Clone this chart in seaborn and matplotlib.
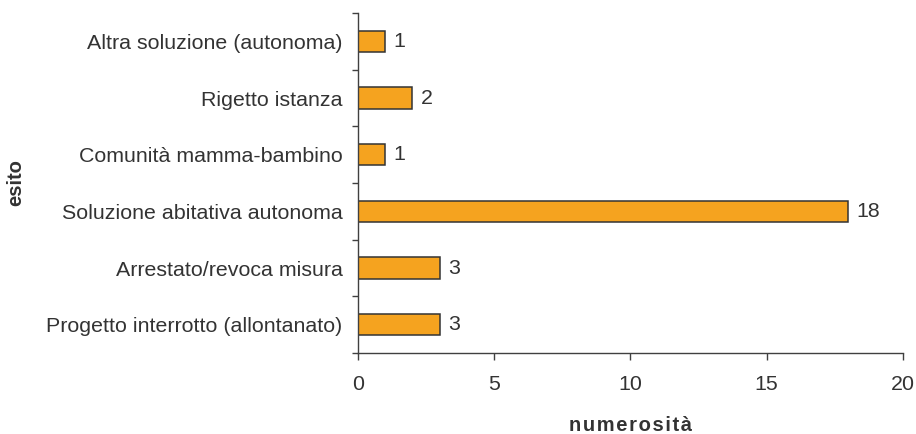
from matplotlib import pyplot as plt
from matplotlib.ticker import FixedLocator
import seaborn as sns
import pandas as pd

# categories from top to bottom, as in the chart
categorie = ['Altra soluzione (autonoma)', 'Rigetto istanza', 'Comunità mamma-bambino',
             'Soluzione abitativa autonoma', 'Arrestato/revoca misura',
             'Progetto interrotto (allontanato)']
valori = [1, 2, 1, 18, 3, 3]
x_ticks = [0, 5, 10, 15, 20]

df = pd.DataFrame({'esito': categorie, 'numerosita': valori})

sns.set_theme(style='white')
plt.rcParams['font.family'] = ['Liberation Sans', 'DejaVu Sans']
axis_col = '#404040'
text_col = '#333333'
fs = 15.4

fig = plt.figure(figsize=(9.16, 4.34), dpi=100)
ax = fig.add_axes([0.3908, 0.1866, 0.595, 0.7834])

sns.barplot(data=df, x='numerosita', y='esito', orient='h', color='#F5A31F',
            saturation=1, width=0.38, edgecolor='#333333', linewidth=1.1, ax=ax)

# value labels to the right of each bar
for i, v in enumerate(valori):
    ax.annotate(str(v), (v, i), xytext=(6, 0), textcoords='offset points',
                va='center', ha='left', fontsize=fs, color=text_col)

ax.set_xlim(0, 20)
ax.set_ylim(len(categorie) - 0.5, -0.5)
ax.set_xticks(x_ticks)
ax.set_xticklabels([str(t) for t in x_ticks], fontsize=fs, color=text_col)
ax.set_yticks(range(len(categorie)))
ax.set_yticklabels(categorie, fontsize=fs, color=text_col)
ax.yaxis.set_minor_locator(FixedLocator([i - 0.5 for i in range(len(categorie) + 1)]))
ax.tick_params(axis='y', which='major', length=0, pad=11)
ax.tick_params(axis='y', which='minor', length=4.5, width=1, color=axis_col, left=True)
ax.tick_params(axis='x', which='major', length=5, width=1, color=axis_col, bottom=True, pad=11)

for s in ['top', 'right']:
    ax.spines[s].set_visible(False)
for s in ['left', 'bottom']:
    ax.spines[s].set_color(axis_col)
    ax.spines[s].set_linewidth(1)

# letter-spaced bold axis titles (hair spaces between letters)
ax.set_xlabel('\u200a'.join('numerosità'), fontsize=14.5, fontweight='bold', color=text_col)
ax.set_ylabel('esito', fontsize=14.5, fontweight='bold', color=text_col)
ax.xaxis.set_label_coords(0.5, -0.185)
ax.yaxis.set_label_coords(-0.61, 0.5)
ax.grid(False)

plt.savefig('out.png', dpi=100)
plt.close()
